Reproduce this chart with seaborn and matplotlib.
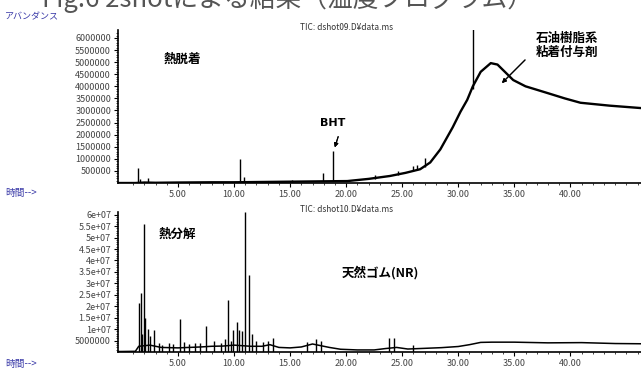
import matplotlib
matplotlib.use("Agg")
import matplotlib.pyplot as plt
import seaborn as sns

# ---- top run: thermal desorption (dshot09) ----
top_time = [-0.3, 1.2, 2.0, 3.0, 5.0, 8.0, 10.0, 12.0, 14.0, 16.0, 18.0, 20.1, 22.0,
            23.9, 25.3, 26.6, 27.5, 28.4, 29.5, 30.2, 30.8, 31.3, 32.0, 32.9, 33.5,
            34.9, 36.0, 37.9, 39.5, 40.9, 43.5, 46.3]
top_abund = [0, 0, 20000, 10000, 20000, 30000, 30000, 40000, 50000, 60000, 70000,
             80000, 170000, 290000, 420000, 570000, 850000, 1390000, 2300000,
             2950000, 3440000, 4000000, 4600000, 4960000, 4900000, 4260000, 4000000,
             3730000, 3500000, 3320000, 3200000, 3100000]

# spikes on top run: time, height
top_spike_time = [1.43, 1.6, 2.3, 10.5, 10.9, 15.2, 17.9, 18.8, 22.6, 24.6, 26.0,
                  26.3, 27.0, 31.35]
top_spike_top = [610000, 150000, 200000, 980000, 250000, 120000, 410000, 1320000,
                 330000, 480000, 700000, 750000, 1050000, 7000000]
top_spike_base = [0, 0, 20000, 30000, 30000, 55000, 70000, 75000, 175000, 350000,
                  500000, 520000, 650000, 3900000]

# ---- bottom run: pyrolysis (dshot10) ----
bot_time = [-0.3, 1.2, 1.5, 2.5, 3.5, 5.0, 6.0, 7.0, 8.0, 9.0, 10.0, 11.5, 12.5,
            13.2, 14.0, 15.0, 16.0, 17.0, 17.5, 18.5, 19.5, 21.0, 22.5, 23.5, 24.5,
            25.5, 27.0, 28.5, 30.0, 31.0, 32.0, 33.0, 35.0, 38.0, 41.0, 44.0, 46.3]
bot_abund = [200000, 300000, 2500000, 3000000, 2000000, 1800000, 2000000, 2200000,
             2500000, 2600000, 3000000, 2500000, 2500000, 3200000, 2000000, 1800000,
             2200000, 3500000, 3000000, 2000000, 1200000, 900000, 900000, 1500000,
             2000000, 1300000, 1600000, 1900000, 2400000, 3200000, 4200000, 4300000,
             4300000, 4000000, 4100000, 3700000, 3600000]

bot_spike_time = [1.54, 1.67, 1.8, 1.94, 2.05, 2.3, 2.5, 2.88, 3.3, 3.6, 4.2, 4.6,
                  5.15, 5.5, 6.0, 6.5, 7.0, 7.47, 8.2, 8.8, 9.2, 9.49, 9.7, 9.94,
                  10.24, 10.45, 10.69, 11.0, 11.34, 11.6, 12.0, 12.6, 13.0, 13.5,
                  16.5, 17.3, 17.8, 23.8, 24.3, 26.0]
bot_spike_top = [21300000, 25700000, 8000000, 56000000, 14800000, 10000000, 7000000,
                 9600000, 4000000, 3000000, 4000000, 3500000, 14300000, 4500000,
                 3500000, 4000000, 3800000, 11400000, 5000000, 4000000, 5500000,
                 22600000, 5000000, 9600000, 13000000, 9600000, 9000000, 61000000,
                 33500000, 8000000, 5000000, 4200000, 5000000, 6000000, 4500000,
                 5500000, 5000000, 6000000, 6000000, 3000000]

top_yticks = [500000, 1000000, 1500000, 2000000, 2500000, 3000000, 3500000,
              4000000, 4500000, 5000000, 5500000, 6000000]
top_ylabels = ["500000", "1000000", "1500000", "2000000", "2500000", "3000000",
               "3500000", "4000000", "4500000", "5000000", "5500000", "6000000"]
bot_yticks = [5e6, 1e7, 1.5e7, 2e7, 2.5e7, 3e7, 3.5e7, 4e7, 4.5e7, 5e7, 5.5e7, 6e7]
bot_ylabels = ["5000000", "1e+07", "1.5e+07", "2e+07", "2.5e+07", "3e+07",
               "3.5e+07", "4e+07", "4.5e+07", "5e+07", "5.5e+07", "6e+07"]
x_ticks = [5, 10, 15, 20, 25, 30, 35, 40]
x_labels = ["5.00", "10.00", "15.00", "20.00", "25.00", "30.00", "35.00", "40.00"]

sns.set_style("ticks")
plt.rcParams['font.family'] = ['Noto Sans CJK JP', 'DejaVu Sans']

W, H = 641, 369
fig = plt.figure(figsize=(6.41, 3.69), dpi=100)


def px(x, y):
    return x / W, 1 - y / H


ax1 = fig.add_axes([118 / W, 1 - 183 / H, 1 - 118 / W, 153 / H])
ax2 = fig.add_axes([118 / W, 1 - 352 / H, 1 - 118 / W, 140 / H])

sns.lineplot(x=top_time, y=top_abund, ax=ax1, color="black", linewidth=1.7)
ax1.vlines(top_spike_time, top_spike_base, top_spike_top, color="black", linewidth=1.0)
sns.lineplot(x=bot_time, y=bot_abund, ax=ax2, color="black", linewidth=1.1)
ax2.vlines(bot_spike_time, 0, bot_spike_top, color="black", linewidth=1.0)

ax1.set_ylim(0, 6330000)
ax2.set_ylim(0, 61200000)
ax1.set_yticks(top_yticks)
ax1.set_yticklabels(top_ylabels)
ax2.set_yticks(bot_yticks)
ax2.set_yticklabels(bot_ylabels)

for ax in (ax1, ax2):
    ax.set_xlim(-0.35, 46.3)
    ax.set_xticks(x_ticks)
    ax.set_xticklabels(x_labels)
    ax.set_xticks(range(1, 47), minor=True)
    ax.tick_params(axis="both", which="major", labelsize=6.5, length=3, width=0.8,
                   pad=2, colors="black", labelcolor="#444444")
    ax.tick_params(axis="both", which="minor", length=1.5, width=0.6)
    ax.set_xlabel("")
    ax.set_ylabel("")
    for s in ("top", "right"):
        ax.spines[s].set_visible(False)
    for s in ("left", "bottom"):
        ax.spines[s].set_linewidth(1.2)
        ax.spines[s].set_color("black")
ax1.set_yticks(range(100000, 6300000, 100000), minor=True)
ax2.set_yticks(range(1000000, 61000000, 1000000), minor=True)

# caption at the very top, cut off by the page edge as in the scan
fig.text(*px(42, -1), "Fig.6 2shotによる結果（温度プログラム）", fontsize=18.5,
         color="#555555", va="center", ha="left")

blue = "#3a3aa8"
fig.text(*px(5, 17), "アバンダンス", fontsize=6.5, color=blue, va="center")
fig.text(*px(5, 193), "時間-->", fontsize=7, color=blue, va="center")
fig.text(*px(5, 364), "時間-->", fontsize=7, color=blue, va="center")
fig.text(*px(300, 28), "TIC: dshot09.D¥data.ms", fontsize=6, color="#333333", va="center")
fig.text(*px(300, 210), "TIC: dshot10.D¥data.ms", fontsize=6, color="#333333", va="center")

bold = dict(fontweight="bold", color="black", ha="center", va="center")
fig.text(*px(182, 59), "熱脱着", fontsize=9, **bold)
fig.text(*px(333, 123), "BHT", fontsize=8, family=["DejaVu Sans"], **bold)
fig.text(*px(567, 45), "石油樹脂系\n粘着付与剤", fontsize=9, linespacing=1.1, **bold)
fig.text(*px(177, 234), "熱分解", fontsize=9, **bold)
fig.text(*px(380, 273), "天然ゴム(NR)", fontsize=9, **bold)

arrow = dict(arrowstyle="-|>", color="black", lw=0.8, mutation_scale=6)
fig.add_artist(plt.annotate("", xy=px(334, 150), xytext=px(339, 134),
                            xycoords="figure fraction", arrowprops=arrow))
fig.add_artist(plt.annotate("", xy=px(500, 85), xytext=px(527, 58),
                            xycoords="figure fraction", arrowprops=arrow))

plt.savefig("out.png", dpi=100)
